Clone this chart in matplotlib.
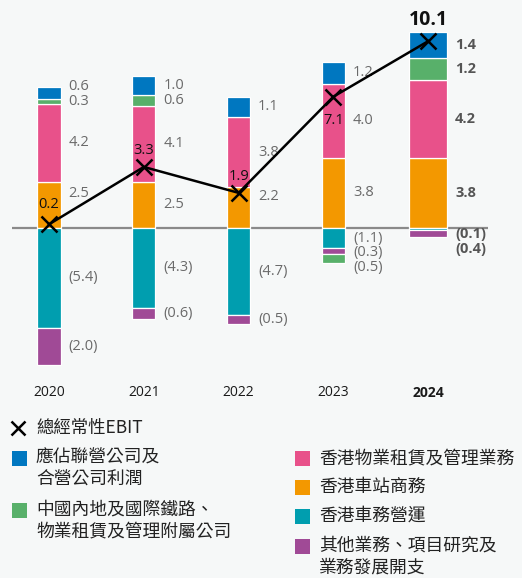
import matplotlib.pyplot as plt
from matplotlib.patches import Rectangle

# Data (HK$ billion)
years = ["2020", "2021", "2022", "2023", "2024"]
associates = [0.6, 1.0, 1.1, 1.2, 1.4]        # blue
mainland = [0.3, 0.6, 0.0, -0.5, 1.2]         # green
property_hk = [4.2, 4.1, 3.8, 4.0, 4.2]       # pink
station_comm = [2.5, 2.5, 2.2, 3.8, 3.8]      # orange
transport_ops = [-5.4, -4.3, -4.7, -1.1, -0.1]  # teal
other = [-2.0, -0.6, -0.5, -0.3, -0.4]        # purple
ebit = [0.2, 3.3, 1.9, 7.1, 10.1]

BG = "#f6f8f8"
C_BLUE, C_GREEN, C_PINK = "#0077c0", "#58b06a", "#e8518a"
C_ORANGE, C_TEAL, C_PURPLE = "#f39800", "#009eaf", "#a04a96"

# stacking order: positives go orange, pink, green, blue; negatives teal, purple, green
series = [
    (station_comm, C_ORANGE),
    (transport_ops, C_TEAL),
    (property_hk, C_PINK),
    (other, C_PURPLE),
    (mainland, C_GREEN),
    (associates, C_BLUE),
]

W, H = 522, 578
fig = plt.figure(figsize=(W / 100, H / 100), dpi=100, facecolor=BG)
ax = fig.add_axes([0, 0, 1, 1])
ax.set_facecolor(BG)
ax.axis("off")

px_x, x0 = 94.8, 49      # pixels per category, first bar centre
px_y, y0 = 18.5, 228     # pixels per unit, zero line
ax.set_xlim(-x0 / px_x, (W - x0) / px_x)
ax.set_ylim(-(H - y0) / px_y, y0 / px_y)

num_font = "Open Sans"
cjk = ["Noto Sans CJK TC", "DejaVu Sans"]

ax.hlines(0, -0.39, 4.63, color="#8a8a8a", lw=1.6, zorder=1)

for i, yr in enumerate(years):
    last = i == len(years) - 1
    bw = 0.40 if last else 0.243
    pos, neg = 0.0, 0.0
    pos_labels, neg_labels = [], []
    for vals, col in series:
        v = vals[i]
        if v == 0:
            continue
        if v > 0:
            ax.bar(i, v, bw, bottom=pos, color=col, edgecolor="white", lw=0.9, zorder=2)
            pos_labels.append((pos + v / 2, v))
            pos += v
        else:
            ax.bar(i, v, bw, bottom=neg, color=col, edgecolor="white", lw=0.9, zorder=2)
            neg_labels.append((neg + v / 2, v))
            neg += v
    lx = i + bw / 2 + 8 / px_x
    kw = dict(fontsize=10.5, family=num_font, va="center", ha="left",
              color="#555555" if last else "#6a6a6a",
              fontweight="bold" if last else "normal")
    prev = None
    for c, v in pos_labels:
        # keep the first label clear of the EBIT line when it sits close by
        if prev is None:
            y = c + 0.6 if abs(ebit[i] - c) < 1.2 else c
        else:
            y = max(c, prev + 0.8)
        ax.text(lx, y, f"{v:.1f}", **kw)
        prev = y
    prev = None
    for c, v in neg_labels:
        y = min(c, -0.35) if prev is None else min(c, prev - 0.8)
        ax.text(lx, y, f"({abs(v):.1f})", **kw)
        prev = y
    ax.text(i, -8.9, yr, ha="center", va="center", fontsize=10, family=num_font,
            color="#1a1a1a", fontweight="bold" if last else "normal")

xs = list(range(len(years)))
ax.plot(xs, ebit, color="black", lw=1.8, marker="x", ms=11, mew=1.8, zorder=4)
offsets = [14, 12, 12, -17, 15]
for i, v in enumerate(ebit):
    last = i == len(years) - 1
    ax.annotate(f"{v:.1f}", (i, v), xytext=(0, offsets[i]), textcoords="offset points",
                ha="center", va="center", family=num_font, color="#111111",
                fontsize=14 if last else 10.5, fontweight="bold" if last else "normal",
                zorder=5)

# Legend drawn in pixel space
lg = fig.add_axes([0, 0, 1, 1])
lg.set_xlim(0, W)
lg.set_ylim(H, 0)
lg.axis("off")
lg.patch.set_alpha(0)

lg.plot([18], [428], marker="x", color="black", ms=10, mew=1.8)
lg.text(36, 428, "總經常性EBIT", family=cjk, fontsize=12.5, va="center", color="#222222")

items = [
    (12, 458, C_BLUE, ["應佔聯營公司及", "合營公司利潤"]),
    (12, 510, C_GREEN, ["中國內地及國際鐵路、", "物業租賃及管理附屬公司"]),
    (295, 458, C_PINK, ["香港物業租賃及管理業務"]),
    (295, 487, C_ORANGE, ["香港車站商務"]),
    (295, 516, C_TEAL, ["香港車務營運"]),
    (295, 546, C_PURPLE, ["其他業務、項目研究及", "業務發展開支"]),
]
for x, y, col, lines in items:
    lg.add_patch(Rectangle((x, y - 7.5), 15, 15, facecolor=col, edgecolor="none"))
    for k, line in enumerate(lines):
        lg.text(x + 24, y + 21.5 * k, line, family=cjk, fontsize=12.8, va="center",
                color="#222222")

fig.savefig("out.png", dpi=100, facecolor=BG)
